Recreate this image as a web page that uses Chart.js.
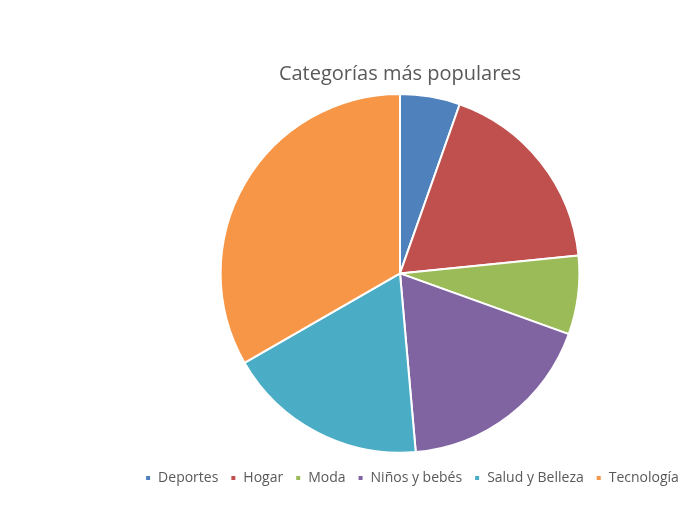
<!DOCTYPE html>
<html>
<head>
<meta charset="utf-8">
<script src="https://cdn.jsdelivr.net/npm/chart.js@4"></script>
<style>
  html, body { margin: 0; padding: 0; background: #ffffff; }
  #wrap { position: absolute; left: 0; top: 0; width: 683px; height: 529px; }
</style>
</head>
<body>
<div id="wrap"><canvas id="pieChart"></canvas></div>
<script>
// Datos (porcentaje aproximado de cada categoría)
const categorias = ['Deportes', 'Hogar', 'Moda', 'Niños y bebés', 'Salud y Belleza', 'Tecnología'];
const valores = [5.4, 18.0, 7.1, 18.1, 18.1, 33.3];
const colores = ['#4F81BD', '#C0504D', '#9BBB59', '#8064A2', '#4BACC6', '#F79646'];

// La leyenda del original está un poco desplazada a la derecha del pastel
const moverLeyenda = {
    id: 'moverLeyenda',
    afterLayout(chart) {
        chart.legend.left += 12;
        chart.legend.right += 12;
    }
};

const ctx = document.getElementById('pieChart').getContext('2d');
new Chart(ctx, {
    type: 'pie',
    data: {
        labels: categorias,
        datasets: [{
            data: valores,
            backgroundColor: colores,
            borderColor: '#ffffff',
            borderWidth: 2
        }]
    },
    options: {
        responsive: true,
        maintainAspectRatio: false,
        animation: false,
        layout: { padding: { top: 0, left: 117, right: 0, bottom: 34 } },
        plugins: {
            title: {
                display: true,
                text: 'Categorías más populares',
                color: '#595959',
                font: { family: 'Open Sans', size: 20, weight: 'normal' },
                padding: { top: 62, bottom: 7 }
            },
            legend: {
                position: 'bottom',
                // titulo vacío solo para separar la leyenda del gráfico
                title: { display: true, text: ' ', font: { size: 1 }, padding: { top: 0, bottom: 4 } },
                labels: {
                    color: '#595959',
                    font: { family: 'Open Sans', size: 14 },
                    boxWidth: 6,
                    boxHeight: 6,
                    padding: 12
                }
            },
            tooltip: { enabled: false }
        }
    },
    plugins: [moverLeyenda]
});
</script>
</body>
</html>
